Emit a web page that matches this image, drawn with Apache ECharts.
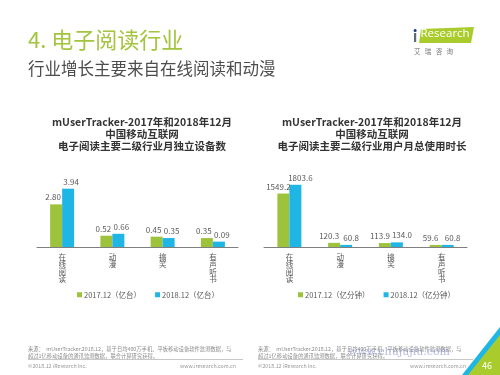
<!DOCTYPE html>
<html><head><meta charset="utf-8">
<script src="https://cdn.jsdelivr.net/npm/echarts@6/dist/echarts.min.js"></script>
<style>html,body{margin:0;padding:0;background:#fff}#c{width:500px;height:375px}</style>
</head><body><div id="c"></div>
<script>
const categories = ['在线阅读', '动漫', '搞笑', '有声听书'];
const devices2017 = [2.80, 0.52, 0.45, 0.35];
const devices2018 = [3.94, 0.66, 0.35, 0.09];
const time2017 = [1549.2, 120.3, 113.9, 59.6];
const time2018 = [1803.6, 60.8, 134.0, 60.8];
const seriesNamesL = ['2017.12（亿台）', '2018.12（亿台）'];
const seriesNamesR = ['2017.12（亿分钟）', '2018.12（亿分钟）'];
const leftTitle = 'mUserTracker-2017年和2018年12月\n中国移动互联网\n电子阅读主要二级行业月独立设备数';
const rightTitle = 'mUserTracker-2017年和2018年12月\n中国移动互联网\n电子阅读主要二级行业用户月总使用时长';

const GREEN = '#9dc33c', BLUE = '#1fb6e6';
const FONT = '"Noto Sans CJK SC","Noto Sans",sans-serif';
const chart = echarts.init(document.getElementById('c'), null, {renderer: 'canvas'});

function catAxis(grid) {
  return {
    type: 'category', gridIndex: grid, data: categories,
    axisLine: {onZero: false, lineStyle: {color: '#7f7f7f', width: 1}},
    axisTick: {show: false},
    axisLabel: {color: '#595959', fontSize: 7.5, fontFamily: FONT, lineHeight: 7.5, margin: 6,
      formatter: v => v.split('').join('\n')}
  };
}
function barSeries(name, data, color, axis, dx) {
  return {
    type: 'bar', name, data, xAxisIndex: axis, yAxisIndex: axis,
    barWidth: 12, barGap: '0%',
    itemStyle: {color},
    label: {show: true, position: 'top', color: '#595959', fontSize: 8, fontFamily: FONT, distance: 3, offset: [dx, 0],
      formatter: p => axis === 0 ? p.value.toFixed(2) : p.value.toFixed(1)}
  };
}
const footer = (x0) => ([
  {type: 'text', left: x0, top: 345, style: {text: '来源：  mUserTracker.2018.12，基于日均400万手机、平板移动设备软件监测数据，与\n超过1亿移动设备的通讯监测数据，联合计算研究获得。', fill: '#8c8c8c', fontSize: 5.3, lineHeight: 7, fontFamily: FONT}},
  {type: 'line', shape: {x1: x0, y1: 359.5, x2: x0 + 215, y2: 359.5}, style: {stroke: '#c8c8c8', lineWidth: 1}},
  {type: 'text', left: x0, top: 363, style: {text: '©2018.12 iResearch Inc.', fill: '#9a9a9a', fontSize: 5.3, fontFamily: FONT}},
  {type: 'text', left: x0 + 215 - 63, top: 363, style: {text: 'www.iresearch.com.cn', fill: '#9a9a9a', fontSize: 5.3, fontFamily: FONT}}
]);
const legendText = {color: '#595959', fontSize: 7.5, fontFamily: FONT, padding: [0, 0, 0, -3]};

chart.setOption({
  animation: false,
  textStyle: {fontFamily: FONT},
  title: [
    {text: leftTitle, left: 137, top: 111, textAlign: 'center',
      textStyle: {fontSize: 10.5, fontWeight: 'bold', color: '#333', lineHeight: 12, fontFamily: FONT}},
    {text: rightTitle, left: 367, top: 111, textAlign: 'center',
      textStyle: {fontSize: 10.5, fontWeight: 'bold', color: '#333', lineHeight: 12, fontFamily: FONT}}
  ],
  legend: [
    {data: seriesNamesL, left: 72, top: 286, itemWidth: 5, itemHeight: 5, itemGap: 14, icon: 'rect', textStyle: legendText},
    {data: seriesNamesR, left: 293, top: 286, itemWidth: 5, itemHeight: 5, itemGap: 14, icon: 'rect', textStyle: legendText}
  ],
  grid: [
    {left: 37, width: 201, top: 181, height: 66},
    {left: 264, width: 203, top: 178, height: 69}
  ],
  xAxis: [catAxis(0), catAxis(1)],
  yAxis: [
    {type: 'value', gridIndex: 0, min: -0.3, max: 4.5, startValue: -0.3, show: false, splitLine: {show: false}},
    {type: 'value', gridIndex: 1, min: 0, max: 2000, show: false, splitLine: {show: false}}
  ],
  series: [
    barSeries(seriesNamesL[0], devices2017, GREEN, 0, -3),
    barSeries(seriesNamesL[1], devices2018, BLUE, 0, 3),
    barSeries(seriesNamesR[0], time2017, GREEN, 1, -5),
    barSeries(seriesNamesR[1], time2018, BLUE, 1, 5)
  ],
  graphic: [
    {type: 'text', left: 28, top: 29, style: {text: '4. 电子阅读行业', fill: '#a3c43f', fontSize: 22, fontFamily: FONT}},
    {type: 'text', left: 28, top: 60, style: {text: '行业增长主要来自在线阅读和动漫', fill: '#4d4d4d', fontSize: 16.5, fontFamily: FONT}},
    {type: 'group', x: 411, y: 27, z: 10, children: [
      {type: 'polygon', shape: {points: [[10, 2], [63, 0], [60, 16], [8, 16]]}, style: {fill: '#a9cc2c'}},
      {type: 'rect', shape: {x: 3, y: 6, width: 2.2, height: 9}, style: {fill: '#5b6b7a'}},
      {type: 'circle', shape: {cx: 4.1, cy: 3.5, r: 1.5}, style: {fill: '#1d3d7a'}},
      {type: 'text', x: 9.5, y: 0.5, style: {text: 'Research', fill: '#ffffff', fontSize: 11.5, fontFamily: '"Open Sans",sans-serif'}}
    ]},
    {type: 'text', left: 414, top: 48, style: {text: '艾   瑞   咨   询', fill: '#777', fontSize: 6.5, fontFamily: FONT}},
    ...footer(28),
    ...footer(258),
    {type: 'text', left: 348, top: 347, style: {text: 'www.chujujiu.com', fill: 'rgba(120,130,200,0.55)', fontSize: 11, fontFamily: '"DejaVu Serif",serif'}},
    {type: 'polygon', shape: {points: [[462, 375], [500, 327], [500, 375]]}, style: {fill: '#1fb6e6'}},
    {type: 'polygon', shape: {points: [[468, 375], [500, 335], [500, 375]]}, style: {fill: '#a9cc2c'}},
    {type: 'text', left: 482, top: 361, style: {text: '46', fill: '#fff', fontSize: 9, fontFamily: FONT}}
  ]
});
</script></body></html>
